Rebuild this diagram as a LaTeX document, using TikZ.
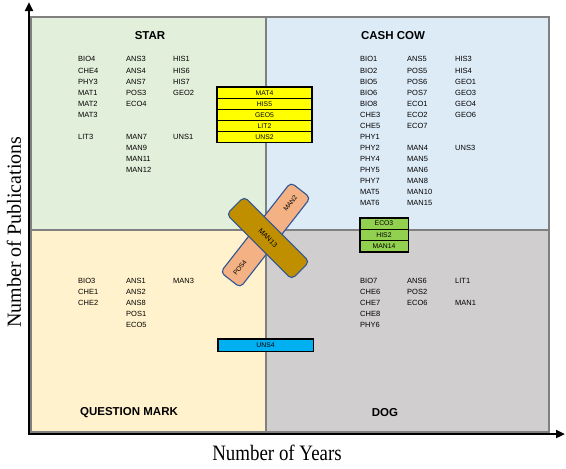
\documentclass[tikz,border=0pt]{standalone}
\usepackage{fontspec}
\setmainfont{Liberation Serif}
\setsansfont{Liberation Sans}
\usetikzlibrary{arrows.meta,positioning,calc}
\definecolor{starc}{HTML}{E2EFDA}
\definecolor{cowc}{HTML}{DDEBF7}
\definecolor{qmc}{HTML}{FFF2CC}
\definecolor{dogc}{HTML}{D0CECE}
\definecolor{yel}{HTML}{FFFF00}
\definecolor{grn}{HTML}{92D050}
\definecolor{cyn}{HTML}{00B0F0}
\definecolor{salm}{HTML}{F4B183}
\definecolor{brn}{HTML}{BF8F00}
\definecolor{edge}{HTML}{2F5597}
\tikzset{
  cell/.style={draw=gray,line width=1.2pt},
  code/.style={anchor=west,inner sep=0pt,text=black,font=\sffamily\fontsize{7.5}{8}\selectfont},
  ttl/.style={inner sep=0pt,font=\sffamily\bfseries\fontsize{11.5}{12}\selectfont},
  bar/.style={draw,line width=0.7pt,inner sep=0pt,minimum height=11,font=\sffamily\fontsize{6.8}{7}\selectfont},
  frm/.style={draw,line width=1.6pt},
  tape/.style={draw=edge,line width=1.1pt,rounded corners=4.5pt,inner sep=0pt,minimum height=25,font=\sffamily\fontsize{7}{8}\selectfont},
  tapetxt/.style={inner sep=0pt,font=\sffamily\fontsize{6.5}{7}\selectfont},
  ax/.style={line width=2.5pt,-{Triangle[length=9pt,width=8pt]}},
  axlab/.style={inner sep=0pt,font=\rmfamily\fontsize{22}{24}\selectfont},
}
\begin{document}
\begin{tikzpicture}[x=1pt,y=-1pt]
  \useasboundingbox (0,0) rectangle (566,469);
  \path[cell,fill=starc] (31,17) rectangle (266,230);
  \path[cell,fill=cowc] (266,17) rectangle (549,230);
  \path[cell,fill=qmc] (31,230) rectangle (266,432);
  \path[cell,fill=dogc] (266,230) rectangle (549,432);

  \node[ttl] (star) at (150,36) {STAR};
  \node[ttl] (cow) at (393,36) {CASH COW};
  \node[ttl] (qm) at (129,413) {QUESTION MARK};
  \node[ttl] (dog) at (385,413) {DOG};

  \foreach \t/\r in {BIO4/1,CHE4/2,PHY3/3,MAT1/4,MAT2/5,MAT3/6,LIT3/8}
    \node[code] (\t) at (78,{48.3+11.06*\r}) {\t};
  \foreach \t/\r in {ANS3/1,ANS4/2,ANS7/3,POS3/4,ECO4/5,MAN7/8,MAN9/9,MAN11/10,MAN12/11}
    \node[code] (\t) at (126,{48.3+11.06*\r}) {\t};
  \foreach \t/\r in {HIS1/1,HIS6/2,HIS7/3,GEO2/4,UNS1/8}
    \node[code] (\t) at (173,{48.3+11.06*\r}) {\t};

  \foreach \t [count=\r] in {BIO1,BIO2,BIO5,BIO6,BIO8,CHE3,CHE5,PHY1,PHY2,PHY4,PHY5,PHY7,MAT5,MAT6}
    \node[code] (\t) at (360,{48.3+11.06*\r}) {\t};
  \foreach \t/\r in {ANS5/1,POS5/2,POS6/3,POS7/4,ECO1/5,ECO2/6,ECO7/7,MAN4/9,MAN5/10,MAN6/11,MAN8/12,MAN10/13,MAN15/14}
    \node[code] (\t) at (407,{48.3+11.06*\r}) {\t};
  \foreach \t/\r in {HIS3/1,HIS4/2,GEO1/3,GEO3/4,GEO4/5,GEO6/6,UNS3/9}
    \node[code] (\t) at (455,{48.3+11.06*\r}) {\t};

  \foreach \t [count=\r] in {BIO3,CHE1,CHE2}
    \node[code] (\t) at (78,{269.6+11*\r}) {\t};
  \foreach \t [count=\r] in {ANS1,ANS2,ANS8,POS1,ECO5}
    \node[code] (\t) at (126,{269.6+11*\r}) {\t};
  \node[code] (MAN3) at (173,280.6) {MAN3};

  \foreach \t [count=\r] in {BIO7,CHE6,CHE7,CHE8,PHY6}
    \node[code] (\t) at (360,{269.6+11*\r}) {\t};
  \foreach \t [count=\r] in {ANS6,POS2,ECO6}
    \node[code] (\t) at (407,{269.6+11*\r}) {\t};
  \node[code] (LIT1) at (455,280.6) {LIT1};
  \node[code] (MAN1) at (455,302.6) {MAN1};

  \foreach \t [count=\i] in {MAT4,HIS5,GEO5,LIT2,UNS2}
    \node[bar,fill=yel,minimum width=94] (\t) at (264.5,{81.8+11*\i}) {\t};
  \draw[frm] (MAT4.north west) rectangle (UNS2.south east);

  \foreach \t [count=\i] in {ECO3,HIS2,MAN14}
    \node[bar,fill=grn,minimum width=48,minimum height=11.3] (\t) at (384,{212.35+11.3*\i}) {\t};
  \draw[frm] (ECO3.north west) rectangle (MAN14.south east);

  \node[bar,fill=cyn,minimum width=95,minimum height=12] (UNS4) at (265.5,345) {UNS4};
  \draw[frm] (UNS4.north west) rectangle (UNS4.south east);

  \node[tape,fill=salm,minimum width=114,rotate=52] (pinkbar) at (265.5,235) {};
  \node[tapetxt,rotate=52] (MAN2) at ($(pinkbar.center)!0.7!(pinkbar.east)$) {MAN2};
  \node[tapetxt,rotate=52] (POS4) at ($(pinkbar.center)!0.72!(pinkbar.west)$) {POS4};
  \node[tape,fill=brn,minimum width=92,rotate=-45] (MAN13) at (268,238) {MAN13};

  \coordinate (o) at (29,434);
  \coordinate (ytip) at (29,2);
  \coordinate (xtip) at (565,434);
  \draw[ax] (o) -- (ytip);
  \draw[ax] ([xshift=-1.2pt]o) -- (xtip);

  \node[axlab] (xlab) at (277,453) {\scalebox{0.86}[1]{Number of Years}};
  \node[axlab,rotate=90,font=\rmfamily\fontsize{20}{22}\selectfont] (ylab) at (14,232) {Number of Publications};
\end{tikzpicture}
\end{document}
